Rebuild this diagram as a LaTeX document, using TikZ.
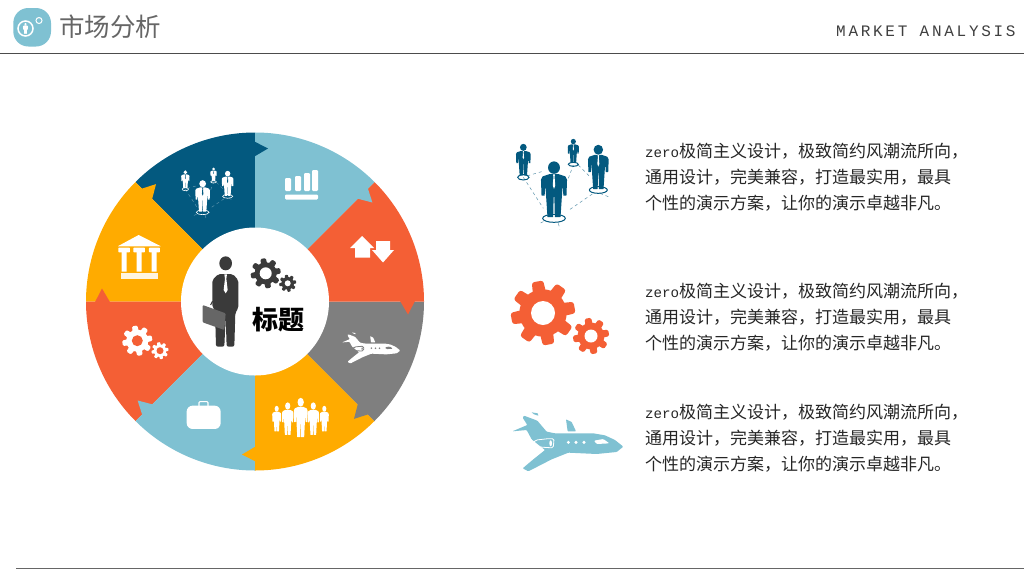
\documentclass[tikz,border=0pt]{standalone}
\usepackage{fontspec}
\setmainfont{Noto Sans CJK SC}
\newfontfamily\zmono{Liberation Mono}
\newfontfamily\spmono[LetterSpace=17]{Liberation Mono}
\definecolor{dkb}{HTML}{03597F}
\definecolor{redo}{HTML}{F45F35}
\definecolor{amb}{HTML}{FFAB00}
\definecolor{lbl}{HTML}{7FC1D2}
\definecolor{gry}{HTML}{7F7F7F}
\definecolor{ink}{HTML}{3A3A3A}
\tikzset{
  zoomed/.style n args={2}{shift={(#1,#2)},x=0.3333pt,y=-0.3333pt},
  bodytxt/.style={anchor=north west,inner sep=0pt,align=left,text=black!85,font=\fontsize{17}{26}\selectfont},
  personx/.style={},
}
% gear: x y R hole fg bg
\newcommand\mygear[6]{%
  \begin{scope}[shift={(#1,#2)}]
    \pgfmathsetmacro\gw{0.25*#3}
    \pgfmathsetmacro\gc{0.08*#3}
    \fill[#5] (0pt,0pt) circle[radius=0.74*#3 pt];
    \foreach \t in {10,55,...,325}{%
      \fill[#5,rotate=\t,rounded corners=\gc pt] (0pt,-\gw pt) -- (#3 pt,-0.72*\gw pt) -- (#3 pt,0.72*\gw pt) -- (0pt,\gw pt) -- cycle;
    }
    \fill[#6] (0pt,0pt) circle[radius=#4 pt];
  \end{scope}}
% person: cx top height fg tie
\newcommand\myperson[5]{%
  \begin{scope}[shift={(#1,#2)},scale=#3/100,personx]
    \fill[#4] (0,10.5) ellipse[x radius=10.5,y radius=11];
    \fill[#4,rounded corners=0.3pt] (-8,22) -- (8,22) -- (20,26) -- (23,32) -- (22,60) -- (16.5,60) -- (15.5,40) -- (14,60) -- (11.5,98) -- (1.5,98) -- (0.6,62) -- (-0.6,62) -- (-1.5,98) -- (-11.5,98) -- (-14,60) -- (-15.5,40) -- (-16.5,60) -- (-22,60) -- (-23,32) -- (-20,26) -- cycle;
    \fill[#5] (-1.6,22.5) -- (1.6,22.5) -- (1,27) -- (2.2,42) -- (0,48) -- (-2.2,42) -- (-1,27) -- cycle;
  \end{scope}}
% team: ox oy s fg tie ringwidth dashopacity
\newcommand\myteam[7]{%
  \begin{scope}[shift={(#1,#2)},x=#3pt,y=-#3pt]
    \draw[#4,opacity=#7,line width=.5pt,dashed] (70,142) -- (130,235) (210,238) -- (280,190) (205,145) -- (220,105) (235,105) -- (270,140) (125,125) -- (80,138) (130,275) -- (115,282) (175,280) -- (180,298) (300,190) -- (325,200);
    \draw[#4,line width=#6pt] (70,142) ellipse[x radius=17,y radius=8] (220,103) ellipse[x radius=15,y radius=6] (295,180) ellipse[x radius=27,y radius=10] (162,265) ellipse[x radius=34,y radius=12];
    \myperson{70}{42}{96}{#4}{#5}
    \myperson{220}{27}{73}{#4}{#5}
    \myperson{295}{45}{135}{#4}{#5}
    \myperson{162}{95}{170}{#4}{#5}
  \end{scope}}
% plane: ox oy s fg bg
\newcommand\myplane[5]{%
  \begin{scope}[shift={(#1,#2)},x=#3pt,y=-#3pt]
    \fill[#4,rounded corners=0.8pt] (370,140) -- (345,120) -- (315,106) -- (280,100) -- (165,100) -- (140,95) -- (112,62) -- (72,47) -- (68,53) -- (82,75) -- (37,94) -- (80,90) -- (95,118) -- (135,150) -- (100,178) -- (68,205) -- (85,214) -- (155,178) -- (205,158) -- (290,162) -- (350,156) -- cycle;
    \fill[#4] (95,37) -- (113,40) -- (115,47) -- (102,43) -- cycle;
    \fill[#4,rounded corners=0.6pt] (198,58) -- (215,66) -- (228,94) -- (203,94) -- cycle;
    \draw[#5,line width=.8pt,rounded corners=1.5pt] (145,116) -- (108,120) -- (98,130) -- (108,140) -- (145,143) -- (160,143) -- (162,116) -- cycle;
    \fill[#5] (152,130) ellipse[x radius=4,y radius=9];
    \fill[#5] (205,127) circle[radius=5] (228,127) circle[radius=5] (252,127) circle[radius=5];
    \fill[#5,rounded corners=1pt] (282,122) -- (310,117) -- (328,130) -- (290,132) -- cycle;
  \end{scope}}
\begin{document}
\begin{tikzpicture}[x=1pt,y=-1pt]
\useasboundingbox (0,0) rectangle (1024,576);
\fill[white] (0,0) rectangle (1024,576);
% header
\draw[black!70,line width=.8pt] (0,53.5) -- (1024,53.5);
\draw[black!60,line width=.8pt] (16,568) -- (1024,568);
\fill[lbl,rounded corners=15pt] (13.3,8) rectangle (51,46.5);
\draw[white,line width=1.5pt] (25.5,28.5) circle[radius=7.5];
\draw[white,line width=1pt] (39,20.5) circle[radius=3];
\myperson{25.5}{23}{11}{white}{white}
\node[anchor=west,inner sep=0pt,text=black!60,font=\fontsize{25.5}{30}\selectfont] (title) at (59,27) {市场分析};
\node[anchor=west,inner sep=0pt,text=black!75,font=\spmono\fontsize{16}{18}\selectfont] (sub) at (836,31) {MARKET ANALYSIS};
% ring
\begin{scope}[shift={(255,301.5)}]
  \foreach \a/\c in {90/dkb,135/amb,180/redo,225/lbl,270/amb,315/gry,0/redo,45/lbl}{%
    \fill[\c,rotate=\a] (0pt,0pt) -- (169pt,0pt) arc[start angle=0,end angle=45,radius=169pt] -- cycle;
  }
  \foreach \a/\c in {90/dkb,135/amb,180/redo,225/lbl,270/amb,315/gry,0/redo,45/lbl}{%
    \fill[\c,rotate=\a] (145pt,0.6pt) -- (160pt,0.6pt) -- (153pt,-13pt) -- cycle;
  }
  \fill[white] (0pt,0pt) circle[radius=74pt];
\end{scope}
% centre man
\begin{scope}[zoomed={180}{230}]
  \fill[ink] (137,100) ellipse[x radius=19,y radius=21];
  \fill[ink,rounded corners=2pt] (97,150) -- (115,132) -- (158,132) -- (175,150) -- (175,235) -- (166,248) -- (163,350) -- (140,350) -- (137,262) -- (133,350) -- (108,350) -- (105,240) -- (97,232) -- cycle;
  \fill[white] (133,133) -- (141,133) -- (139,146) -- (143,180) -- (137,190) -- (131,180) -- (135,146) -- cycle;
  \draw[ink,line width=1pt] (92,225) -- (97,215) -- (112,220) -- (112,232);
  \fill[black!60,rounded corners=1pt] (68,225) -- (137,250) -- (133,300) -- (68,277) -- cycle;
\end{scope}
\mygear{265.7}{273.3}{15}{6}{ink}{white}
\mygear{287.7}{283.3}{8.5}{3}{ink}{white}
\node[inner sep=0pt,text=black,font=\fontsize{26}{30}\selectfont\bfseries] (ttl) at (278,320) {标题};
% dark blue: team
\myteam{172.2}{162.5}{0.188}{white}{dkb}{.6}{.35}
% light blue: bars
\fill[white,rounded corners=1.2pt] (285,178) rectangle (291,191) (295,176) rectangle (301,191) (304,173) rectangle (310,191) (312,170) rectangle (318,191);
\fill[white,rounded corners=1.2pt] (285,194.5) rectangle (318,199.5);
% red: arrows
\fill[white] (362,236) -- (374,248) -- (370,248) -- (370,257.5) -- (355,257.5) -- (355,248) -- (350,248) -- cycle;
\fill[white] (383,262.5) -- (394,250) -- (390,250) -- (390,241) -- (376,241) -- (376,250) -- (372,250) -- cycle;
% gray: plane
\myplane{335.5}{326}{0.175}{white}{gry}
% amber: people
\begin{scope}[personx/.style={xscale=.75}]
\myperson{276.7}{406}{26}{white}{white}
\myperson{324.3}{406}{26}{white}{white}
\myperson{287.7}{402.5}{33}{white}{white}
\myperson{313.3}{402.5}{33}{white}{white}
\myperson{300.7}{398}{40}{white}{white}
\end{scope}
% light blue: briefcase
\begin{scope}[zoomed={80}{295}]
  \draw[white,line width=1.1pt,rounded corners=1pt] (357,334) -- (357,320) -- (384,320) -- (384,334);
  \fill[white,rounded corners=6pt] (320,332) rectangle (422,402);
\end{scope}
% red: gears
\mygear{137.3}{340.7}{15}{5.5}{white}{redo}
\mygear{160}{350.7}{8.5}{3.5}{white}{redo}
% amber: bank
\begin{scope}[zoomed={80}{125}]
  \fill[white,rounded corners=.4pt] (113,364) -- (176,330) -- (243,364) -- cycle;
  \fill[white,rounded corners=.6pt] (115,368) rectangle (150,382) (160,368) rectangle (195,382) (207,368) rectangle (240,382);
  \fill[white] (125,380) rectangle (140,440) (170,380) rectangle (185,440) (215,380) rectangle (230,440);
  \fill[white!88!amb] (122,445) rectangle (233,462);
\end{scope}
% right column
\myteam{500}{130}{0.3333}{dkb}{white}{1}{.65}
\mygear{543}{313}{32}{12}{redo}{white}
\mygear{591}{336}{18}{6.5}{redo}{white}
\myplane{500}{400}{0.3333}{lbl}{white}
\node[bodytxt] (txa) at (645,142.5) {{\zmono\fontsize{14.17}{26}\selectfont zero}极简主义设计，极致简约风潮流所向，\\通用设计，完美兼容，打造最实用，最具\\个性的演示方案，让你的演示卓越非凡。};
\node[bodytxt] (txb) at (645,282.5) {{\zmono\fontsize{14.17}{26}\selectfont zero}极简主义设计，极致简约风潮流所向，\\通用设计，完美兼容，打造最实用，最具\\个性的演示方案，让你的演示卓越非凡。};
\node[bodytxt] (txc) at (645,403.5) {{\zmono\fontsize{14.17}{26}\selectfont zero}极简主义设计，极致简约风潮流所向，\\通用设计，完美兼容，打造最实用，最具\\个性的演示方案，让你的演示卓越非凡。};
\end{tikzpicture}
\end{document}
